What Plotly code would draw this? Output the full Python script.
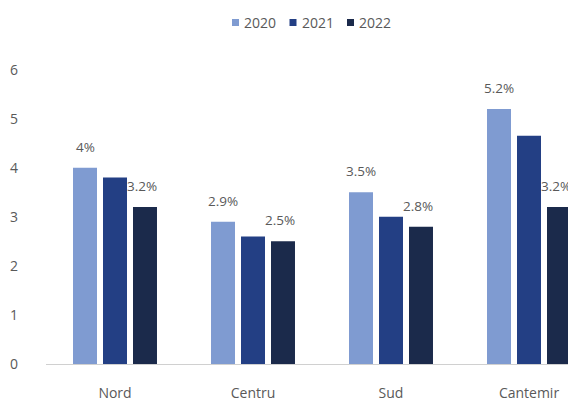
import plotly.graph_objects as go

# data
regions = ["Nord", "Centru", "Sud", "Cantemir"]
years = ["2020", "2021", "2022"]
vals_2020 = [4.0, 2.9, 3.5, 5.2]
vals_2021 = [3.8, 2.6, 3.0, 4.65]
vals_2022 = [3.2, 2.5, 2.8, 3.2]
labels_2020 = ["4%", "2.9%", "3.5%", "5.2%"]
labels_2022 = ["3.2%", "2.5%", "2.8%", "3.2%"]

colors = ["#7f9bd1", "#233f84", "#1b2a4b"]
FONT = "Open Sans, Segoe UI, sans-serif"
TXT = "#595959"

W, H = 576, 401
ML, MR, MT, MB = 38, 0, 42, 45
PW, PH = W - ML - MR, H - MT - MB


def px(x, y):
    # figure pixels -> paper coordinates
    return (x - ML) / PW, (H - MB - y) / PH


fig = go.Figure()
for yr, vals, col in zip(years, [vals_2020, vals_2021, vals_2022], colors):
    fig.add_trace(go.Bar(x=regions, y=vals, name=yr, marker=dict(color=col, line=dict(width=0))))

# value labels only for 2020 and 2022 bars, like the original
for labels, vals, shift in [(labels_2020, vals_2020, -30), (labels_2022, vals_2022, 27)]:
    for reg, v, lab in zip(regions, vals, labels):
        fig.add_annotation(x=reg, y=v, text=lab, showarrow=False, xshift=shift, yshift=21,
                           yanchor="middle", font=dict(size=13.5, color=TXT, family=FONT))

# compact legend drawn by hand (plotly's own legend spaces the items too widely)
for i, (yr, col) in enumerate(zip(years, colors)):
    x0 = 224 + i * 57.5
    ax0, ay0 = px(x0, 18)
    ax1, ay1 = px(x0 + 7, 11)
    fig.add_shape(type="rect", xref="paper", yref="paper", x0=ax0, x1=ax1, y0=ay0, y1=ay1,
                  fillcolor=col, line=dict(width=0))
    tx, ty = px(x0 + 10, 14.5)
    fig.add_annotation(xref="paper", yref="paper", x=tx, y=ty, text=yr, showarrow=False,
                       xanchor="left", yanchor="middle",
                       font=dict(size=14, color=TXT, family=FONT))

fig.update_layout(
    width=W, height=H,
    margin=dict(l=ML, r=MR, t=MT, b=MB, autoexpand=False),
    paper_bgcolor="white", plot_bgcolor="white",
    barmode="group", bargap=0.348, bargroupgap=0.2,
    font=dict(family=FONT, size=14, color=TXT),
    showlegend=False,
)
fig.update_xaxes(range=[-0.5, -0.5 + PW / 138], showgrid=False, showline=True, linecolor="#d0d0d0",
                 linewidth=1, ticks="", automargin=False, ticklabelstandoff=16,
                 tickfont=dict(size=14, color=TXT))
fig.update_yaxes(range=[0, 6.4], dtick=1, showgrid=False, zeroline=False, showline=False,
                 ticks="", automargin=False, ticklabelstandoff=27,
                 tickfont=dict(size=14, color=TXT))

fig.write_html("out.html")
